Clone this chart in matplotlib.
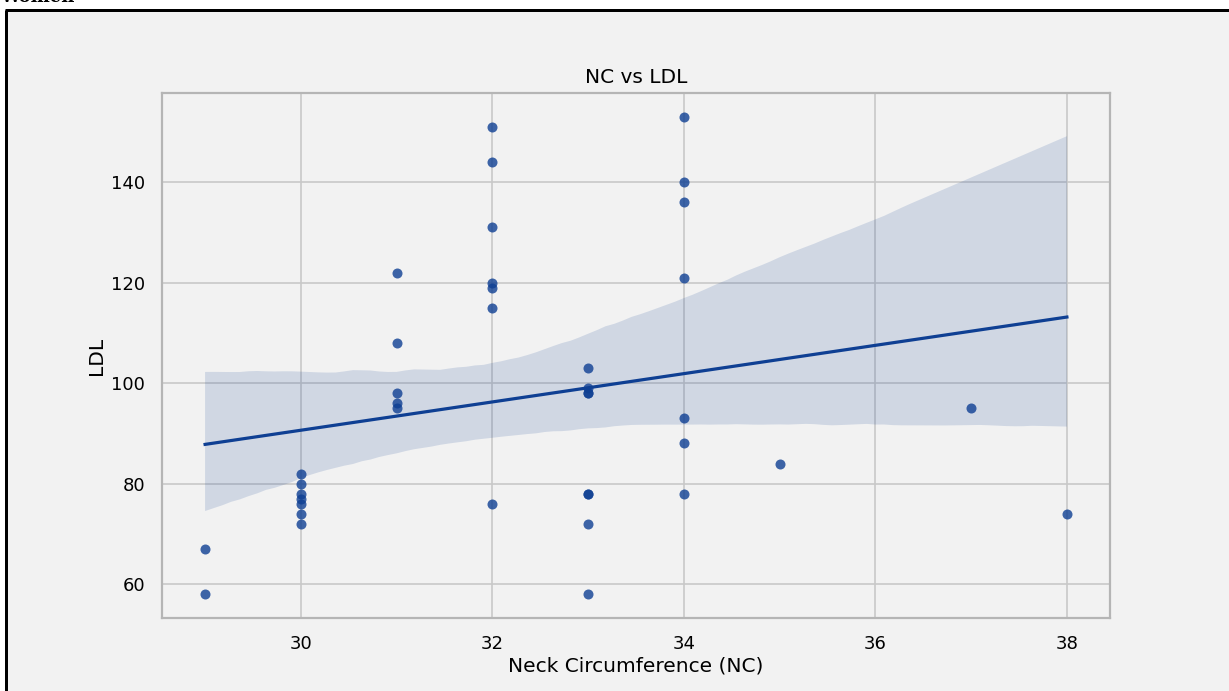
import numpy as np
import matplotlib
matplotlib.use("Agg")
import matplotlib.pyplot as plt
import seaborn as sns
from matplotlib.patches import Rectangle
from matplotlib.lines import Line2D

# neck circumference (cm) and LDL values
nc = [29, 29,
      30, 30, 30, 30, 30, 30, 30,
      31, 31, 31, 31, 31,
      32, 32, 32, 32, 32, 32, 32,
      33, 33, 33, 33, 33, 33, 33, 33,
      34, 34, 34, 34, 34, 34, 34,
      35, 37, 38]
ldl = [67, 58,
       82, 80, 78, 77, 76, 74, 72,
       122, 108, 98, 96, 95,
       151, 144, 131, 120, 119, 115, 76,
       103, 99, 98, 98, 78, 78, 72, 58,
       153, 140, 136, 121, 93, 88, 78,
       84, 95, 74]

xticks = [30, 32, 34, 36, 38]
yticks = [60, 80, 100, 120, 140]

bg = "#f2f2f2"
blue = "#0e3f93"

W, H = 1229, 691
fig = plt.figure(figsize=(W / 100, H / 100), dpi=100, facecolor="white")

# gray panel with the black frame on left / top (document screenshot look)
fig.patches.append(Rectangle((8 / W, 0), 1 - 8 / W, 1 - 11 / H, transform=fig.transFigure,
                             facecolor=bg, edgecolor="none", zorder=-5))
fig.lines.append(Line2D([6.5 / W, 6.5 / W], [0, 1 - 9.5 / H], transform=fig.transFigure,
                        color="black", lw=3 * 72 / 100, solid_capstyle="butt", zorder=5))
fig.lines.append(Line2D([5 / W, 1], [1 - 9.5 / H, 1 - 9.5 / H], transform=fig.transFigure,
                        color="black", lw=3 * 72 / 100, solid_capstyle="butt", zorder=5))
fig.text(0.0, 1 - 2 / H, "Women", family="DejaVu Serif", weight="bold", fontsize=13,
         va="baseline", ha="left")

ax = fig.add_axes([162 / W, 1 - 618 / H, (1110 - 162) / W, (618 - 93) / H])
ax.set_facecolor(bg)

sns.regplot(x=nc, y=ldl, ax=ax, color=blue, seed=3,
            scatter_kws={"s": 52, "alpha": 0.8, "linewidths": 0},
            line_kws={"lw": 2.3})

ax.set_xticks(xticks)
ax.set_yticks(yticks)
ax.grid(True, color="#c8c8c8", lw=1.2)
ax.set_axisbelow(True)
for s in ax.spines.values():
    s.set_color("#b5b5b5")
    s.set_linewidth(1.6)
ax.tick_params(length=0, labelsize=13, pad=12)

ax.set_title("NC vs LDL", fontsize=14.5, pad=7)
ax.set_xlabel("Neck Circumference (NC)", fontsize=14.5, labelpad=3)
ax.set_ylabel("LDL", fontsize=14.5, labelpad=4)

fig.savefig("out.png", dpi=100, facecolor=fig.get_facecolor())
